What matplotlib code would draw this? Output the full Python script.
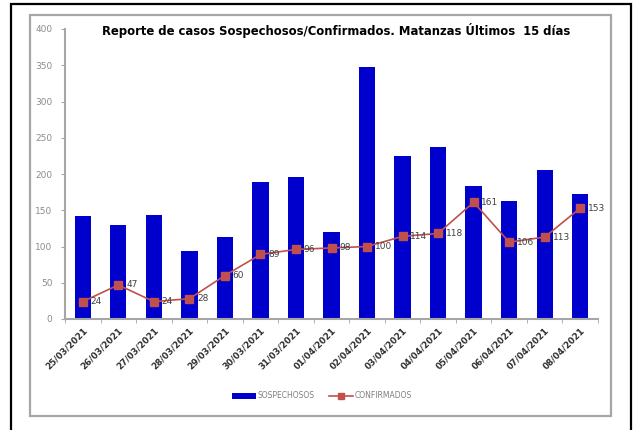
#!/usr/bin/env python3

import numpy as np
import matplotlib as mpl
mpl.use("Agg")
import matplotlib.pyplot as plt
from matplotlib.patches import Rectangle

fechas = ["25/03/2021", "26/03/2021", "27/03/2021", "28/03/2021", "29/03/2021",
          "30/03/2021", "31/03/2021", "01/04/2021", "02/04/2021", "03/04/2021",
          "04/04/2021", "05/04/2021", "06/04/2021", "07/04/2021", "08/04/2021"]
sospechosos = [142, 130, 144, 94, 113, 189, 196, 120, 347, 225, 237, 183, 163, 206, 173]
confirmados = [24, 47, 24, 28, 60, 89, 96, 98, 100, 114, 118, 161, 106, 113, 153]
yticks = [0, 50, 100, 150, 200, 250, 300, 350, 400]

W, H = 635, 430
fig = plt.figure(figsize=(W / 100, H / 100), dpi=100)

# outer black frame and inner gray chart frame (pixel coords -> figure fraction)
def box(x0, y0, x1, y1, **kw):
    fig.add_artist(Rectangle((x0 / W, 1 - y1 / H), (x1 - x0) / W, (y1 - y0) / H,
                             transform=fig.transFigure, fill=False, **kw))

box(11, 4, 631, 440, edgecolor="black", linewidth=1.6)
box(30, 15, 611, 416, edgecolor="#a6a6a6", linewidth=1.6)

ax = fig.add_axes([65 / W, 1 - 319 / H, (598 - 65) / W, (319 - 29) / H])
x = np.arange(len(fechas))
bars = ax.bar(x, sospechosos, width=0.46, color="#0000cc", label="SOSPECHOSOS", zorder=2)
line, = ax.plot(x, confirmados, color="#c0504d", marker="s", markersize=6, linewidth=1.2,
                label="CONFIRMADOS", zorder=3)
for xi, v in zip(x, confirmados):
    ax.text(xi + 0.22, v, str(v), fontsize=6.5, color="#404040", va="center", ha="left", zorder=4)

ax.set_xlim(-0.5, len(fechas) - 0.5)
ax.set_ylim(0, 400)
ax.set_yticks(yticks)
ax.set_yticklabels([str(t) for t in yticks], fontsize=6.5, color="#8c8c8c")
ax.set_xticks(x)
ax.set_xticklabels(fechas, rotation=45, ha="right", rotation_mode="anchor",
                   fontsize=6.3, fontweight="bold", color="#303030")
ax.set_xticks(np.arange(-0.5, len(fechas)), minor=True)
ax.tick_params(axis="x", which="major", length=0, pad=5)
ax.tick_params(axis="x", which="minor", length=3, color="#a6a6a6", direction="out")
ax.tick_params(axis="y", length=3, color="#a6a6a6", direction="out", pad=6)
for s in ["top", "right"]:
    ax.spines[s].set_visible(False)
for s in ["left", "bottom"]:
    ax.spines[s].set_color("#a6a6a6")
    ax.spines[s].set_linewidth(1.5)

fig.text(336 / W, 1 - 31 / H,
         "Reporte de casos Sospechosos/Confirmados. Matanzas Últimos  15 días",
         ha="center", va="center", fontsize=8.4, fontweight="semibold", color="black")

fig.legend([bars, line], ["SOSPECHOSOS", "CONFIRMADOS"], loc="center",
           bbox_to_anchor=(322 / W, 1 - 396 / H), ncol=2, frameon=False,
           fontsize=5.5, labelcolor="#7f7f7f", handlelength=3.2, handletextpad=0.2,
           columnspacing=1.8, markerscale=0.8)

fig.savefig("out.png", dpi=100)
